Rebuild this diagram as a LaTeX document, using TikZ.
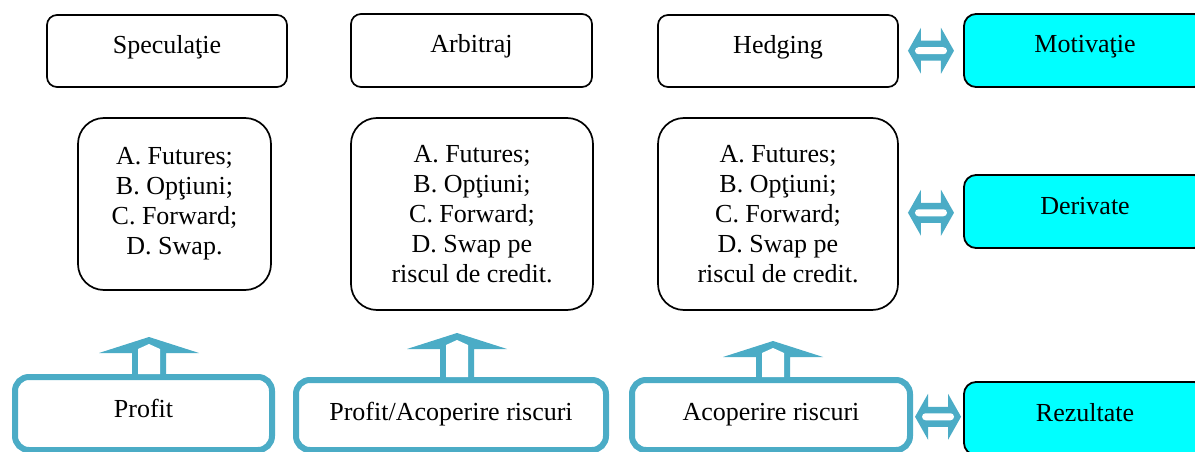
\documentclass[tikz,border=0pt]{standalone}
\usepackage{fontspec}
\setmainfont{Liberation Serif}
\usetikzlibrary{calc}
\definecolor{acc}{HTML}{4BACC6}
\definecolor{cyanbox}{HTML}{00FFFF}
\tikzset{
  txt/.style={font=\fontsize{26}{30}\selectfont, inner sep=0pt, anchor=base},
  blackbox/.style={draw=black, line width=1.7pt, fill=white, inner sep=0pt},
  topbox/.style={blackbox, rounded corners=10pt, minimum width=240pt, minimum height=72pt},
  midbox/.style={blackbox, rounded corners=26pt, align=center, font=\fontsize{26}{30}\selectfont},
  bluebox/.style={draw=acc, line width=6pt, fill=white, rounded corners=14pt, inner sep=0pt},
  cyanb/.style={draw=black, line width=1.8pt, fill=cyanbox, rounded corners=12pt, minimum width=242pt, minimum height=73pt, inner sep=0pt},
  dblarr/.pic={
    \fill[acc] (-23,0) -- (-10,-23) -- (-10,-10) -- (10,-10) -- (10,-23) -- (23,0)
      -- (10,23) -- (10,10) -- (-10,10) -- (-10,23) -- cycle;
    \fill[white, rounded corners=3.5pt] (-16,-3.5) rectangle (16,3.5);
  },
  upar/.pic={
    \fill[acc] (-17,0) -- (-17,-#1+16) -- (-50,-#1+16) -- (0,-#1) -- (50,-#1+16)
      -- (17,-#1+16) -- (17,0) -- cycle;
    \fill[white] (-11,0) -- (-11,-#1+12) -- (0,-#1+7) -- (11,-#1+12) -- (11,0) -- cycle;
  }
}
\begin{document}
\begin{tikzpicture}[x=1pt,y=-1pt]
\clip (0,0) rectangle (1195,452);
\fill[white] (0,0) rectangle (1195,452);
% top row
\node[topbox] (spec) at (167,51) {};
\node[txt] (spect) at (167,54) {Speculaţie};
\node[topbox, minimum width=241pt, minimum height=73pt] (arb) at (471.5,50.5) {};
\node[txt] (arbt) at (471.5,53) {Arbitraj};
\node[topbox] (hedg) at (778,51) {};
\node[txt] (hedgt) at (778,54) {Hedging};
\node[cyanb] (motiv) at (1085,50.5) {};
\node[txt] (motivt) at (1085,53) {Motivaţie};
% middle row
\node[midbox, minimum width=193pt, minimum height=172pt] (m1) at (174.5,204)
  {A. Futures;\\B. Opţiuni;\\C. Forward;\\D. Swap.};
\node[midbox, minimum width=242pt, minimum height=192pt] (m2) at (472,214)
  {A. Futures;\\B. Opţiuni;\\C. Forward;\\D. Swap pe\\riscul de credit.};
\node[midbox, minimum width=240pt, minimum height=192pt] (m3) at (778,214)
  {A. Futures;\\B. Opţiuni;\\C. Forward;\\D. Swap pe\\riscul de credit.};
\node[cyanb] (deriv) at (1085,211.5) {};
\node[txt] (derivt) at (1085,214) {Derivate};
% bottom row
\node[bluebox, minimum width=257pt, minimum height=73pt] (b1) at (143.5,413.5) {};
\node[txt] (b1t) at (143.5,417) {Profit};
\node[bluebox, minimum width=310pt, minimum height=70pt] (b2) at (451,415) {};
\node[txt] (b2t) at (451,420) {Profit/Acoperire riscuri};
\node[bluebox, minimum width=278pt, minimum height=70pt] (b3) at (771,415) {};
\node[txt] (b3t) at (771,420) {Acoperire riscuri};
\node[cyanb] (rez) at (1085,418.5) {};
\node[txt] (rezt) at (1085,421) {Rezultate};
% up arrows
\pic at ($(b1.north)+(5.5,0)$) {upar=37};
\pic at ($(b2.north)+(6,0)$) {upar=44};
\pic at ($(b3.north)+(2,0)$) {upar=36};
% double arrows
\pic at ($(hedg.east)!0.5!(motiv.west)$) {dblarr};
\pic at ($(m3.east)!0.5!(deriv.west)$) {dblarr};
\pic at ($(b3.east)!0.5!(rez.west)$) {dblarr};
\end{tikzpicture}
\end{document}
